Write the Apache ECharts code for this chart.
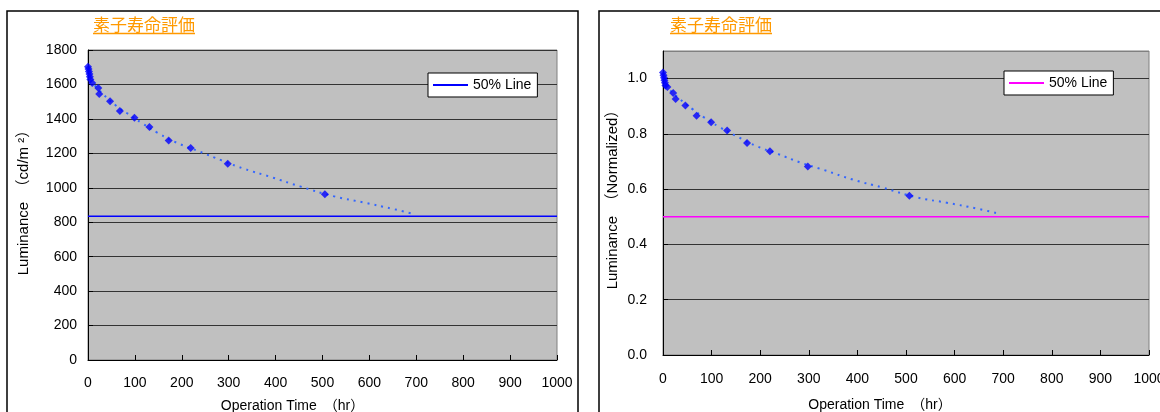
<!DOCTYPE html>
<html><head><meta charset="utf-8">
<script src="https://cdn.jsdelivr.net/npm/echarts@6/dist/echarts.min.js"></script>
<style>html,body{margin:0;padding:0;background:#fff}#c{width:1160px;height:412px}</style>
</head><body><div id="c"></div>
<script>
// ---- data ----
const titleText = '素子寿命評価';
const xTicks = [0,100,200,300,400,500,600,700,800,900,1000];
// measured points (left: absolute luminance)
const timeL = [0,1,2,3,4,5,9,22,24,47,68,99,131,172,219,298,505];
const lumL  = [1703,1690,1675,1660,1645,1628,1609,1580,1545,1502,1446,1407,1353,1275,1231,1140,963];
// trend (left)
const trendTL = [5,26,63,86,117,149,189,237,285,331,393,452,525,587,649,696];
const trendL  = [1625,1560,1470,1428,1372,1318,1262,1211,1159,1112,1060,1008,950,915,878,847];
const halfLum = 835;
// measured points (right: normalized)
const timeR = [0,1,2,3,4,5,9,21,26,46,69,99,132,173,220,298,507];
const normR = [1.022,1.012,1.003,0.994,0.985,0.975,0.970,0.948,0.926,0.903,0.866,0.842,0.812,0.767,0.737,0.682,0.576];
// trend (right)
const trendTR = [5,28,62,86,117,150,191,237,282,330,392,451,523,584,645,690];
const trendR  = [0.975,0.936,0.888,0.858,0.824,0.793,0.757,0.727,0.697,0.670,0.634,0.606,0.570,0.551,0.530,0.512];
const halfNorm = 0.5;
const xRange = [0,1000];

const FONT = 'Liberation Sans, Arial, Noto Sans CJK JP, sans-serif';
const pair = (a,b) => a.map((v,i)=>[v,b[i]]);

const chart = echarts.init(document.getElementById('c'), null, {renderer:'canvas'});

function xAx(gi, nameShift, gap, lm){
  return {
    gridIndex: gi, type:'value', min:0, max:1000, interval:100,
    name:'Operation Time　（hr）', nameLocation:'middle', nameGap:gap,
    nameTextStyle:{color:'#000', fontSize:14, fontFamily:FONT, padding:[0,nameShift,0,0]},
    axisLine:{show:true, lineStyle:{color:'#000', width:1}},
    axisTick:{show:true, inside:true, length:5, lineStyle:{color:'#000'}},
    axisLabel:{color:'#000', fontSize:14, fontFamily:FONT, margin:lm, formatter:v=>String(v)},
    splitLine:{show:false}
  };
}

const option = {
  animation:false,
  backgroundColor:'#fff',
  grid:[
    {left:88, top:50, width:469, height:310, show:true, backgroundColor:'#C0C0C0', borderColor:'#808080', borderWidth:1, outerBoundsMode:'none', containLabel:false},
    {left:663, top:51, width:486, height:304, show:true, backgroundColor:'#C0C0C0', borderColor:'#808080', borderWidth:1, outerBoundsMode:'none', containLabel:false}
  ],
  xAxis:[ xAx(0,60,39,16), xAx(1,52,43,17) ],
  yAxis:[
    {gridIndex:0, type:'value', min:0, max:1800, interval:200,
     name:'Luminance　（cd/m ²）', nameLocation:'middle', nameGap:57,
     nameTextStyle:{color:'#000', fontSize:15, fontFamily:FONT, padding:[0,0,0,12]},
     axisLine:{show:true, lineStyle:{color:'#000'}},
     axisTick:{show:true, inside:true, length:5, lineStyle:{color:'#000'}},
     axisLabel:{color:'#000', fontSize:14, fontFamily:FONT, margin:11, formatter:v=>String(v)},
     splitLine:{show:true, lineStyle:{color:'#333', width:1}}},
    {gridIndex:1, type:'value', min:0, max:1.1, interval:0.2,
     name:'Luminance　（Normalized）', nameLocation:'middle', nameGap:43,
     nameTextStyle:{color:'#000', fontSize:15, fontFamily:FONT, padding:[0,0,0,14]},
     axisLine:{show:true, lineStyle:{color:'#000'}},
     axisTick:{show:true, inside:true, length:5, lineStyle:{color:'#000'}},
     axisLabel:{color:'#000', fontSize:14, fontFamily:FONT, margin:16, showMaxLabel:false,
                formatter:v=>v.toFixed(1)},
     splitLine:{show:true, lineStyle:{color:['#333','#333','#333','#333','#333','#333','#808080'], width:1}}}
  ],
  legend:[
    {data:['50% Line'], left:428, top:73, orient:'vertical', backgroundColor:'#fff', borderColor:'#000', borderWidth:1,
     padding:[5,6,5,5], itemWidth:35, itemHeight:2, icon:'rect', itemGap:5,
     textStyle:{color:'#000', fontSize:14, fontFamily:FONT}},
    {data:['50% Line R'], left:1004, top:71, orient:'vertical', backgroundColor:'#fff', borderColor:'#000', borderWidth:1,
     padding:[5,6,5,5], itemWidth:35, itemHeight:2, icon:'rect',
     formatter:()=> '50% Line',
     textStyle:{color:'#000', fontSize:14, fontFamily:FONT}}
  ],
  series:[
    {name:'trendL', type:'line', xAxisIndex:0, yAxisIndex:0, data:pair(trendTL,trendL), smooth:true, showSymbol:false,
     lineStyle:{color:'#3366FF', width:2, type:[2,5]}, z:2},
    {name:'dataL', type:'scatter', xAxisIndex:0, yAxisIndex:0, data:pair(timeL,lumL), symbol:'diamond', symbolSize:8,
     itemStyle:{color:'#0000FF'}, z:3},
    {name:'50% Line', type:'line', xAxisIndex:0, yAxisIndex:0, data:xRange.map(x=>[x,halfLum]), showSymbol:false,
     lineStyle:{color:'#0000FF', width:1.5}, itemStyle:{color:'#0000FF'}, z:2},
    {name:'trendR', type:'line', xAxisIndex:1, yAxisIndex:1, data:pair(trendTR,trendR), smooth:true, showSymbol:false,
     lineStyle:{color:'#3366FF', width:2, type:[2,5]}, z:2},
    {name:'dataR', type:'scatter', xAxisIndex:1, yAxisIndex:1, data:pair(timeR,normR), symbol:'diamond', symbolSize:8,
     itemStyle:{color:'#0000FF'}, z:3},
    {name:'50% Line R', type:'line', xAxisIndex:1, yAxisIndex:1, data:xRange.map(x=>[x,halfNorm]), showSymbol:false,
     lineStyle:{color:'#FF00FF', width:1.5}, itemStyle:{color:'#FF00FF'}, z:2}
  ],
  graphic:[
    {type:'rect', shape:{x:7, y:11, width:571, height:430}, style:{fill:'none', stroke:'#000', lineWidth:1.5}, z:-10, silent:true},
    {type:'rect', shape:{x:599, y:11, width:600, height:430}, style:{fill:'none', stroke:'#000', lineWidth:1.5}, z:-10, silent:true},
    {type:'text', x:93, y:16, style:{text:titleText, fill:'#FF9900', font:'17px "Noto Sans CJK JP", sans-serif'}},
    {type:'line', shape:{x1:93, y1:33.5, x2:195, y2:33.5}, style:{stroke:'#FF9900', lineWidth:1.5}},
    {type:'text', x:670, y:16, style:{text:titleText, fill:'#FF9900', font:'17px "Noto Sans CJK JP", sans-serif'}},
    {type:'line', shape:{x1:670, y1:33.5, x2:772, y2:33.5}, style:{stroke:'#FF9900', lineWidth:1.5}}
  ]
};
chart.setOption(option);
</script></body></html>
